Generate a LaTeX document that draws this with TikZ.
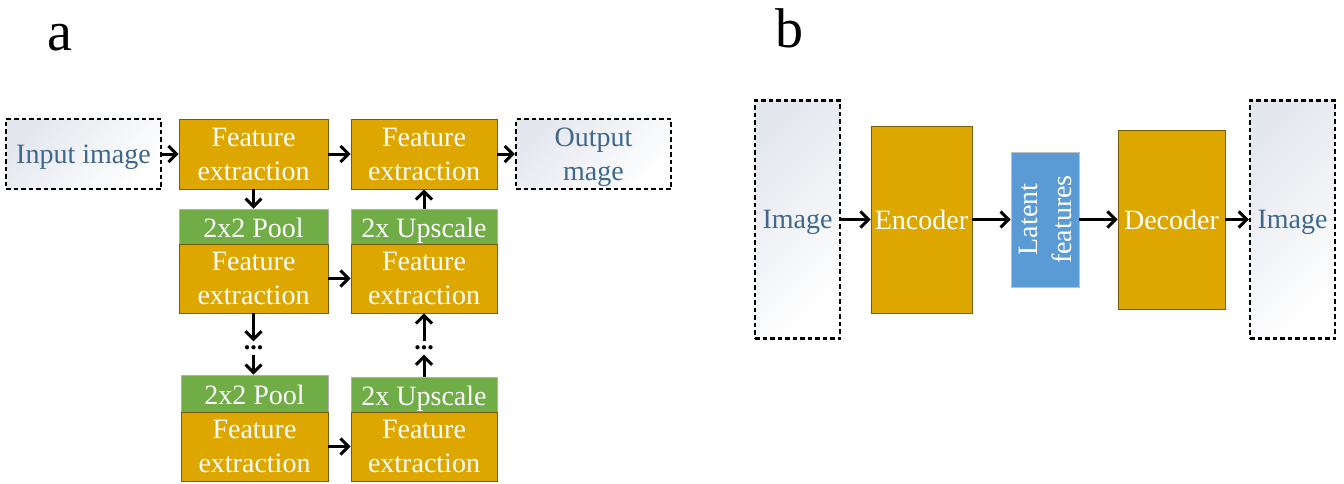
\documentclass[tikz,border=0pt]{standalone}
\usepackage{fontspec}
\setmainfont{Liberation Serif}
\usetikzlibrary{arrows.meta,shadows}
\definecolor{gold}{RGB}{221,167,0}
\definecolor{goldedge}{RGB}{120,92,10}
\definecolor{poolgreen}{RGB}{112,173,71}
\definecolor{latblue}{RGB}{91,155,213}
\definecolor{imgtext}{RGB}{62,104,140}
\definecolor{imgtop}{RGB}{228,231,238}

\begin{document}
\begin{tikzpicture}[x=1pt,y=-1pt,
  box/.style={rectangle, inner sep=0pt, align=center,
    font=\fontsize{28}{34}\selectfont, text=white},
  festage/.style={box, fill=gold, draw=goldedge, line width=0.8pt,
    drop shadow={shadow xshift=1.2pt, shadow yshift=-1.2pt, opacity=0.25}},
  opstage/.style={box, fill=poolgreen, draw=black!30, line width=0.6pt,
    text height=22pt, text depth=0pt},
  latbox/.style={box, fill=latblue, draw=black!25, line width=0.6pt,
    drop shadow={shadow xshift=1.2pt, shadow yshift=-1.2pt, opacity=0.25}},
  imgbox/.style={box, draw=black, line width=2.4pt, dash pattern=on 4.5pt off 3pt,
    top color=imgtop, bottom color=white, shading angle=45, text=imgtext,
    text depth=0pt},
  ellip/.style={inner sep=0pt, minimum height=13, font=\fontsize{26}{26}\selectfont\bfseries},
  flow/.style={line width=3pt, -{Straight Barb[length=8pt,width=16pt]}},
  panel/.style={font=\fontsize{56}{60}\selectfont, anchor=base, inner sep=0pt},
]
\useasboundingbox (0,0) rectangle (1344,483);

% panel letters
\node[panel] (la) at (59.5,50) {a};
\node[panel] (lb) at (789,47) {b};

% ---- panel a: encoder-decoder with skip connections ----
\node[imgbox, minimum width=155, minimum height=70] (inp) at (83.5,154) {Input image};
\node[festage, minimum width=149, minimum height=70] (fe1) at (253.5,154) {Feature\\extraction};
\node[festage, minimum width=146, minimum height=70] (fe4) at (424,154) {Feature\\extraction};
\node[imgbox, minimum width=155, minimum height=70] (out) at (593.5,154) {Output\\mage};

\node[opstage, minimum width=149, minimum height=35] (pool1) at (253.5,226.5) {2x2 Pool};
\node[festage, minimum width=149, minimum height=69] (fe2) at (253.5,278.5) {Feature\\extraction};
\node[opstage, minimum width=146, minimum height=35] (up1) at (424,226.5) {2x Upscale};
\node[festage, minimum width=146, minimum height=69] (fe3) at (424,278.5) {Feature\\extraction};

\node[ellip] (dl) at (253.5,348) {...};
\node[ellip] (dr) at (424,348) {...};

\node[opstage, minimum width=147, minimum height=37] (pool2) at (254.5,393.5) {2x2 Pool};
\node[festage, minimum width=147, minimum height=69] (fe5) at (254.5,446.5) {Feature\\extraction};
\node[opstage, minimum width=146, minimum height=35] (up2) at (424,394.5) {2x Upscale};
\node[festage, minimum width=146, minimum height=69] (fe6) at (424,446.5) {Feature\\extraction};

\draw[flow] (inp.east) -- (fe1.west);
\draw[flow] (fe1.east) -- (fe4.west);
\draw[flow] (fe4.east) -- (out.west);
\draw[flow] (fe2.east) -- (fe3.west);
\draw[flow] (fe5.east) -- (fe6.west);
\draw[flow] (fe1.south) -- (pool1.north);
\draw[flow] (up1.north) -- (fe4.south);
\draw[flow] (fe2.south) -- (dl.north);
\draw[flow] (dl.south) -- (dl.south |- pool2.north);
\draw[flow] (up2.north) -- (dr.south);
\draw[flow] (dr.north) -- (fe3.south);

% ---- panel b: autoencoder ----
\node[imgbox, minimum width=85, minimum height=238] (img1) at (797.5,219.5) {Image};
\node[festage, minimum width=101, minimum height=187] (enc) at (921.5,219.5) {Encoder};
\node[latbox, minimum width=68, minimum height=135] (lat) at (1045,219.5) {};
\node[box, rotate=90] (lattxt) at (lat.center) {Latent\\features};
\node[festage, minimum width=107, minimum height=179] (dec) at (1171.5,219.5) {Decoder};
\node[imgbox, minimum width=85, minimum height=238] (img2) at (1292.5,219.5) {Image};

\draw[flow] (img1.east) -- (enc.west);
\draw[flow] (enc.east) -- (lat.west);
\draw[flow] (lat.east) -- (dec.west);
\draw[flow] (dec.east) -- (img2.west);
\end{tikzpicture}
\end{document}
